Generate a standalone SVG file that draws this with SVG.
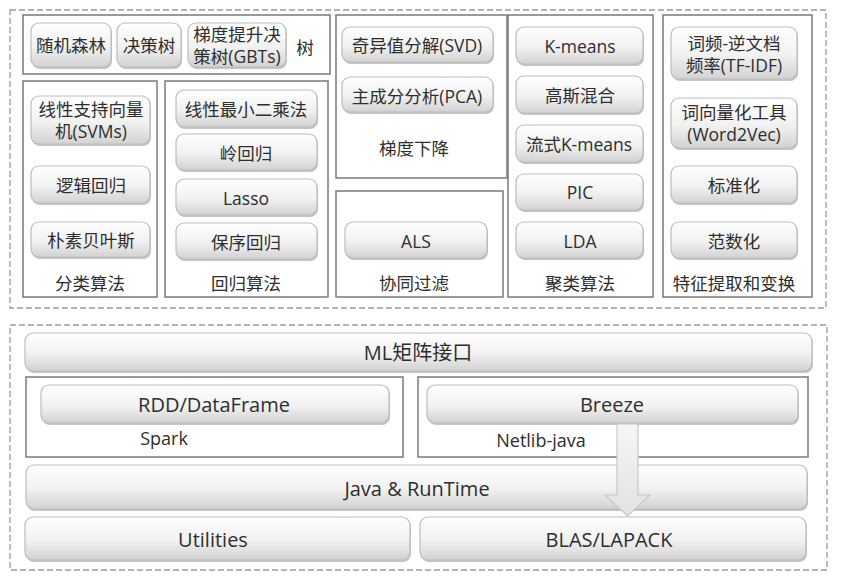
<svg xmlns="http://www.w3.org/2000/svg" width="848" height="584" viewBox="0 0 848 584">
<defs>
<linearGradient id="ng" x1="0" y1="0" x2="0" y2="1">
<stop offset="0" stop-color="#ffffff"/>
<stop offset="0.55" stop-color="#f1f1f1"/>
<stop offset="1" stop-color="#d2d2d2"/>
</linearGradient>
<linearGradient id="ag" x1="0" y1="0" x2="0" y2="1">
<stop offset="0" stop-color="#f6f6f6"/>
<stop offset="1" stop-color="#e2e2e2"/>
</linearGradient>
<style>
.dash{fill:none;stroke:#9a9a9a;stroke-width:1.3;stroke-dasharray:6 3}
.box{fill:#fff;stroke:#7a7a7a;stroke-width:1.5}
.nd{fill:url(#ng);stroke:#bdbdbd;stroke-width:1.2}
.sh{fill:#c4c4c4}
text{font-family:'Open Sans','Noto Sans CJK SC',sans-serif;fill:#2e2e2e;text-anchor:middle;dominant-baseline:central;font-size:17.5px}
.big{font-size:20px}
.lb{font-size:18px}
</style>
</defs>
<rect width="848" height="584" fill="#fff"/>
<rect class="dash" x="10" y="10" width="816" height="298"/>
<rect class="dash" x="10" y="325" width="817" height="245"/>

<g id="tree">
<rect class="box" x="23" y="15" width="307" height="59"/>
<g id="rf"><rect class="sh" x="32" y="25" width="80" height="44" rx="8"/><rect class="nd" x="31" y="23" width="80" height="44" rx="8"/><text x="71" y="45">随机森林</text></g>
<g id="dt"><rect class="sh" x="118" y="25" width="64" height="44" rx="8"/><rect class="nd" x="117" y="23" width="64" height="44" rx="8"/><text x="149" y="45">决策树</text></g>
<g id="gbt"><rect class="sh" x="189" y="25" width="98" height="44" rx="8"/><rect class="nd" x="188" y="23" width="98" height="44" rx="8"/><text x="237" y="34">梯度提升决</text><text x="237" y="56">策树(GBTs)</text></g>
<text x="305" y="47">树</text>
</g>

<g id="cls">
<rect class="box" x="23" y="81" width="134" height="216"/>
<g id="svm"><rect class="sh" x="32" y="98" width="119" height="48" rx="8"/><rect class="nd" x="31" y="96" width="119" height="48" rx="8"/><text x="91" y="109">线性支持向量</text><text x="91" y="131">机(SVMs)</text></g>
<g id="lr"><rect class="sh" x="32" y="168" width="119" height="37" rx="8"/><rect class="nd" x="31" y="166" width="119" height="37" rx="8"/><text x="91" y="185">逻辑回归</text></g>
<g id="nb"><rect class="sh" x="32" y="224" width="119" height="35" rx="8"/><rect class="nd" x="31" y="222" width="119" height="35" rx="8"/><text x="91" y="240">朴素贝叶斯</text></g>
<text x="90" y="283">分类算法</text>
</g>

<g id="reg">
<rect class="box" x="165" y="81" width="163" height="216"/>
<g id="ls"><rect class="sh" x="177" y="92" width="141" height="37" rx="8"/><rect class="nd" x="176" y="90" width="141" height="37" rx="8"/><text x="246" y="109">线性最小二乘法</text></g>
<g id="ridge"><rect class="sh" x="177" y="136" width="141" height="36" rx="8"/><rect class="nd" x="176" y="134" width="141" height="36" rx="8"/><text x="246" y="153">岭回归</text></g>
<g id="lasso"><rect class="sh" x="177" y="181" width="141" height="36" rx="8"/><rect class="nd" x="176" y="179" width="141" height="36" rx="8"/><text x="246" y="198">Lasso</text></g>
<g id="iso"><rect class="sh" x="177" y="225" width="141" height="36" rx="8"/><rect class="nd" x="176" y="223" width="141" height="36" rx="8"/><text x="246" y="242">保序回归</text></g>
<text x="246" y="283">回归算法</text>
</g>

<g id="gd">
<rect class="box" x="336" y="15" width="171" height="163"/>
<g id="svd"><rect class="sh" x="343" y="29" width="151" height="35" rx="8"/><rect class="nd" x="342" y="27" width="151" height="35" rx="8"/><text x="417" y="45">奇异值分解(SVD)</text></g>
<g id="pca"><rect class="sh" x="343" y="79" width="151" height="35" rx="8"/><rect class="nd" x="342" y="77" width="151" height="35" rx="8"/><text x="417" y="96">主成分分析(PCA)</text></g>
<text x="414" y="148">梯度下降</text>
</g>

<g id="cf">
<rect class="box" x="336" y="191" width="167" height="106"/>
<g id="als"><rect class="sh" x="346" y="224" width="142" height="36" rx="8"/><rect class="nd" x="345" y="222" width="142" height="36" rx="8"/><text x="416" y="241">ALS</text></g>
<text x="414" y="283">协同过滤</text>
</g>

<g id="clu">
<rect class="box" x="508" y="15" width="145" height="282"/>
<g id="km"><rect class="sh" x="517" y="29" width="127" height="37" rx="8"/><rect class="nd" x="516" y="27" width="127" height="37" rx="8"/><text x="580" y="46">K-means</text></g>
<g id="gmm"><rect class="sh" x="517" y="78" width="127" height="37" rx="8"/><rect class="nd" x="516" y="76" width="127" height="37" rx="8"/><text x="580" y="95">高斯混合</text></g>
<g id="skm"><rect class="sh" x="517" y="127" width="127" height="37" rx="8"/><rect class="nd" x="516" y="125" width="127" height="37" rx="8"/><text x="579" y="144">流式K-means</text></g>
<g id="pic"><rect class="sh" x="517" y="176" width="127" height="36" rx="8"/><rect class="nd" x="516" y="174" width="127" height="36" rx="8"/><text x="580" y="192">PIC</text></g>
<g id="lda"><rect class="sh" x="517" y="224" width="127" height="36" rx="8"/><rect class="nd" x="516" y="222" width="127" height="36" rx="8"/><text x="580" y="241">LDA</text></g>
<text x="580" y="283">聚类算法</text>
</g>

<g id="feat">
<rect class="box" x="663" y="15" width="149" height="282"/>
<g id="tfidf"><rect class="sh" x="672" y="29" width="126" height="52" rx="8"/><rect class="nd" x="671" y="27" width="126" height="52" rx="8"/><text x="734" y="43">词频-逆文档</text><text x="734" y="65">频率(TF-IDF)</text></g>
<g id="w2v"><rect class="sh" x="672" y="100" width="126" height="50" rx="8"/><rect class="nd" x="671" y="98" width="126" height="50" rx="8"/><text x="734" y="112">词向量化工具</text><text x="734" y="134">(Word2Vec)</text></g>
<g id="std"><rect class="sh" x="672" y="168" width="126" height="37" rx="8"/><rect class="nd" x="671" y="166" width="126" height="37" rx="8"/><text x="734" y="185">标准化</text></g>
<g id="norm"><rect class="sh" x="672" y="224" width="126" height="36" rx="8"/><rect class="nd" x="671" y="222" width="126" height="36" rx="8"/><text x="734" y="241">范数化</text></g>
<text x="734" y="283">特征提取和变换</text>
</g>

<g id="ml"><rect class="sh" x="26" y="335" width="787" height="38" rx="8"/><rect class="nd" x="25" y="333" width="787" height="38" rx="8"/><text class="big" x="418" y="352">ML矩阵接口</text></g>

<g id="spark">
<rect class="box" x="26" y="377" width="377" height="80"/>
<g id="rdd"><rect class="sh" x="42" y="387" width="348" height="38" rx="8"/><rect class="nd" x="41" y="385" width="348" height="38" rx="8"/><text class="big" x="214" y="404">RDD/DataFrame</text></g>
<text class="lb" x="164" y="438">Spark</text>
</g>

<g id="netlib">
<rect class="box" x="418" y="377" width="390" height="80"/>
<g id="breeze"><rect class="sh" x="428" y="387" width="371" height="38" rx="8"/><rect class="nd" x="427" y="385" width="371" height="38" rx="8"/><text class="big" x="612" y="404">Breeze</text></g>
<text class="lb" x="541" y="440">Netlib-java</text>
</g>

<g id="java"><rect class="sh" x="27" y="467" width="781" height="44" rx="8"/><rect class="nd" x="26" y="465" width="781" height="44" rx="8"/><text class="big" x="417" y="488">Java &amp; RunTime</text></g>
<g id="util"><rect class="sh" x="26" y="519" width="385" height="43" rx="8"/><rect class="nd" x="25" y="517" width="385" height="43" rx="8"/><text class="big" x="213" y="539">Utilities</text></g>
<g id="blas"><rect class="sh" x="421" y="519" width="386" height="43" rx="8"/><rect class="nd" x="420" y="517" width="386" height="43" rx="8"/><text class="big" x="609" y="539">BLAS/LAPACK</text></g>

<g id="connectors">
<path d="M617,424 L638,424 L638,495 L650,495 L627.5,516 L605,495 L617,495 Z" fill="url(#ag)" stroke="#c8c8c8" stroke-width="1.2"/>
</g>
</svg>
